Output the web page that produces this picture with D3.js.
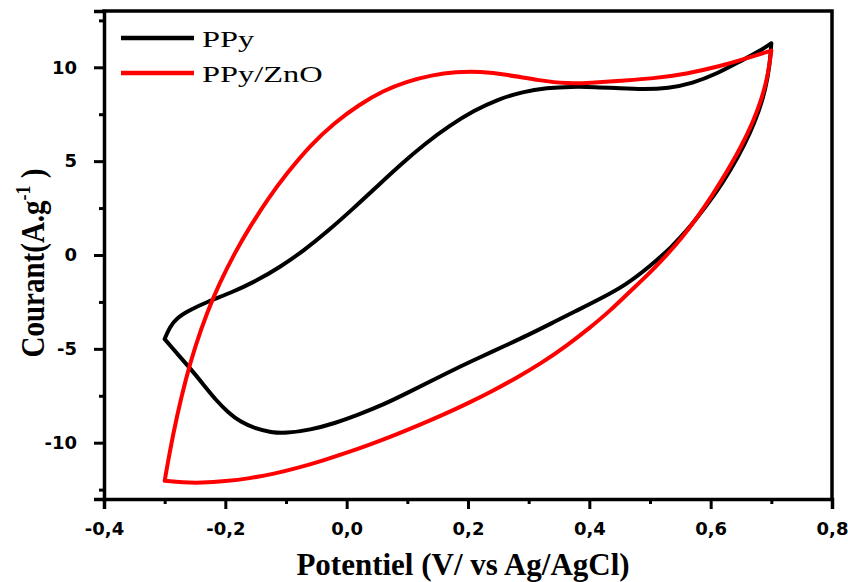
<!DOCTYPE html>
<html>
<head>
<meta charset="utf-8">
<script src="https://cdn.jsdelivr.net/npm/d3@7"></script>
<style>
  html, body { margin: 0; padding: 0; background: #fff; }
  svg { display: block; }
</style>
</head>
<body>
<svg id="chart" width="848" height="582"></svg>
<script>
// Cyclic voltammograms: potential (V vs Ag/AgCl) and current density (A/g).
// Each loop starts at the negative vertex, sweeps anodically to +0.7 V, then back.
const potentialPPy = [
  -0.300, -0.292, -0.280, -0.260, -0.230, -0.190, -0.150, -0.110, -0.070, -0.030,
  0.010, 0.050, 0.090, 0.130, 0.170, 0.210, 0.250, 0.290, 0.330, 0.370, 0.410,
  0.450, 0.490, 0.530, 0.570, 0.610, 0.650, 0.680, 0.700,
  0.697, 0.690, 0.680, 0.665, 0.645, 0.620, 0.595, 0.565, 0.535, 0.500, 0.460,
  0.420, 0.380, 0.340, 0.300, 0.260, 0.220, 0.180, 0.140, 0.100, 0.060, 0.020,
  -0.020, -0.060, -0.100, -0.125, -0.150, -0.175, -0.195, -0.215, -0.235, -0.255,
  -0.275, -0.291, -0.300
];
const currentPPy = [
  -4.48, -3.85, -3.35, -2.95, -2.50, -2.00, -1.40, -0.65, 0.25, 1.30,
  2.45, 3.65, 4.85, 5.95, 6.90, 7.70, 8.30, 8.70, 8.90, 8.97, 8.95,
  8.88, 8.82, 8.88, 9.15, 9.65, 10.35, 10.85, 11.28,
  10.00, 8.80, 7.70, 6.50, 5.20, 3.85, 2.70, 1.45, 0.40, -0.60, -1.60,
  -2.30, -2.95, -3.60, -4.25, -4.85, -5.45, -6.05, -6.70, -7.35, -7.98, -8.50,
  -8.97, -9.32, -9.50, -9.45, -9.25, -8.90, -8.40, -7.75, -6.95, -6.15,
  -5.42, -4.82, -4.48
];
const potentialZnO = [
  -0.300, -0.291, -0.280, -0.265, -0.250, -0.230, -0.210, -0.185, -0.160, -0.130,
  -0.100, -0.060, -0.020, 0.020, 0.060, 0.100, 0.140, 0.180, 0.220, 0.264, 0.319,
  0.363, 0.401, 0.451, 0.505, 0.560, 0.615, 0.659, 0.700,
  0.694, 0.684, 0.670, 0.650, 0.628, 0.605, 0.580, 0.555, 0.525, 0.495, 0.465,
  0.435, 0.400, 0.360, 0.320, 0.280, 0.240, 0.200, 0.160, 0.120, 0.080, 0.040,
  0.000, -0.040, -0.080, -0.120, -0.160, -0.200, -0.240, -0.270, -0.300
];
const currentZnO = [
  -12.03, -10.37, -8.61, -6.57, -4.89, -3.05, -1.53, 0.08, 1.48, 2.98,
  4.30, 5.85, 7.05, 8.00, 8.75, 9.25, 9.58, 9.76, 9.78, 9.61, 9.29,
  9.13, 9.17, 9.29, 9.40, 9.65, 10.05, 10.48, 10.89,
  9.50, 8.30, 7.10, 5.75, 4.50, 3.30, 2.10, 1.00, -0.10, -1.10, -2.00,
  -2.95, -3.90, -4.90, -5.78, -6.55, -7.25, -7.90, -8.50, -9.06, -9.59, -10.08,
  -10.54, -10.96, -11.34, -11.66, -11.90, -12.06, -12.14, -12.12, -12.03
];

const seriesNames = ["PPy", "PPy/ZnO"];
const seriesColors = ["#000000", "#ff0000"];

const xTicks = [-0.4, -0.2, 0.0, 0.2, 0.4, 0.6, 0.8];
const xMinorTicks = [-0.3, -0.1, 0.1, 0.3, 0.5, 0.7];
const yTicks = [-10, -5, 0, 5, 10];
const yMinorTicks = [-12.5, -7.5, -2.5, 2.5, 7.5, 12.5];

const svg = d3.select("#chart");
const margin = { left: 104, right: 16, top: 11, bottom: 83 };
const W = 848, H = 582;

const x = d3.scaleLinear().domain([-0.4, 0.8]).range([margin.left, W - margin.right]);
const y = d3.scaleLinear().domain([-13, 13]).range([H - margin.bottom, margin.top]);

const fr = d3.formatLocale({ decimal: ",", thousands: ".", grouping: [3], currency: ["", ""], minus: "-" });
const fmtX = fr.format(".1f");
const fmtY = fr.format("d");

// ---- curves ----
const line = d3.line()
  .x(d => x(d[0]))
  .y(d => y(d[1]))
  .curve(d3.curveBasis);

function loopPath(pot, cur) {
  const pts = pot.map((v, i) => [v, cur[i]]);
  const turn = d3.maxIndex(pot);
  // forward and reverse sweeps drawn as two pieces sharing the vertex
  return line(pts.slice(0, turn + 1)) + line(pts.slice(turn));
}

const plot = svg.append("g");
[[potentialPPy, currentPPy], [potentialZnO, currentZnO]].forEach((s, i) => {
  plot.append("path")
    .attr("d", loopPath(s[0], s[1]))
    .attr("fill", "none")
    .attr("stroke", seriesColors[i])
    .attr("stroke-width", 4)
    .attr("stroke-linecap", "round")
    .attr("stroke-linejoin", "round");
});

// ---- axes ----
const tickFont = "'DejaVu Sans', sans-serif";
svg.append("g")
  .attr("transform", `translate(0,${y(-13)})`)
  .call(d3.axisBottom(x).tickValues(xTicks).tickFormat(fmtX).tickSize(10).tickPadding(13));
svg.append("g")
  .attr("transform", `translate(0,${y(-13)})`)
  .call(d3.axisBottom(x).tickValues(xMinorTicks).tickFormat("").tickSize(5))
  .call(g => g.select(".domain").remove());

svg.append("g")
  .attr("transform", `translate(${x(-0.4)},0)`)
  .call(d3.axisLeft(y).tickValues(yTicks).tickFormat(fmtY).tickSize(10).tickPadding(17));
svg.append("g")
  .attr("transform", `translate(${x(-0.4)},0)`)
  .call(d3.axisLeft(y).tickValues(yMinorTicks).tickFormat("").tickSize(5))
  .call(g => g.select(".domain").remove());

svg.selectAll(".tick line").attr("stroke", "#000").attr("stroke-width", 3);
svg.selectAll(".domain").attr("stroke", "#000").attr("stroke-width", 3.5);
svg.selectAll(".tick text")
  .attr("fill", "#000")
  .style("font-family", tickFont)
  .style("font-weight", "bold")
  .style("font-size", "18px");

// frame: top and right edges
svg.append("path")
  .attr("d", `M${x(-0.4)},${y(13)}H${x(0.8)}V${y(-13)}`)
  .attr("fill", "none")
  .attr("stroke", "#000")
  .attr("stroke-width", 3.5)
  .attr("stroke-linecap", "square");

// ---- axis titles ----
const serif = "'Liberation Serif', 'Times New Roman', serif";
svg.append("text")
  .attr("x", 463).attr("y", 575)
  .attr("text-anchor", "middle")
  .style("font-family", serif)
  .style("font-weight", "bold")
  .style("font-size", "31px")
  .text("Potentiel (V/ vs Ag/AgCl)");

const yTitle = svg.append("text")
  .attr("transform", "translate(44,263) rotate(-90) scale(1,1.15)")
  .attr("text-anchor", "middle")
  .style("font-family", serif)
  .style("font-weight", "bold")
  .style("font-size", "29px");
yTitle.append("tspan").text("Courant(A.g");
yTitle.append("tspan").attr("dy", -12).style("font-size", "18px").text("-1");
yTitle.append("tspan").attr("dy", 12).text(" )");

// ---- legend ----
const legend = svg.append("g");
seriesNames.forEach((name, i) => {
  const cy = 38 + i * 35;
  legend.append("line")
    .attr("x1", 121).attr("x2", 194)
    .attr("y1", cy).attr("y2", cy)
    .attr("stroke", seriesColors[i])
    .attr("stroke-width", 4.5);
  legend.append("text")
    .attr("transform", `translate(202,${cy + 9}) scale(1.35,1)`)
    .style("font-family", serif)
    .style("font-size", "24px")
    .attr("fill", "#000")
    .text(name);
});
</script>
</body>
</html>
